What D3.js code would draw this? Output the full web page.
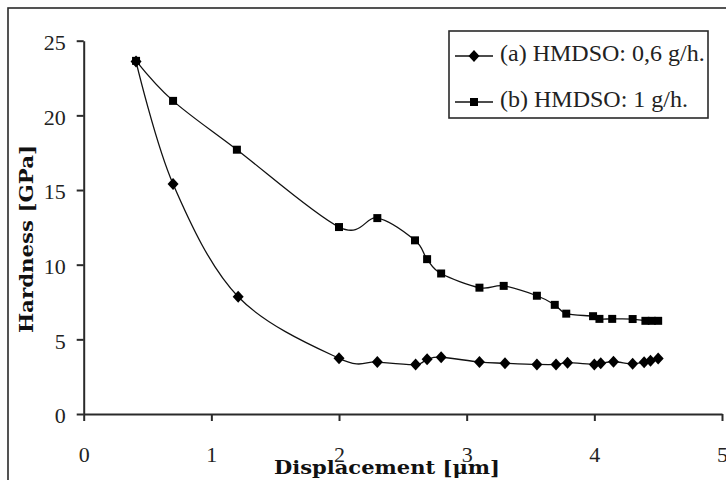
<!DOCTYPE html>
<html><head><meta charset="utf-8">
<script src="https://cdn.jsdelivr.net/npm/d3@7"></script>
<style>html,body{margin:0;padding:0;background:#fff;}svg{display:block;}</style>
</head><body>
<svg id="chart" width="726" height="480"></svg>
<script>
// ---- data ----
const xTicks = [0, 1, 2, 3, 4, 5];
const yTicks = [0, 5, 10, 15, 20, 25];
const seriesNames = ["(a) HMDSO: 0,6 g/h.", "(b) HMDSO: 1 g/h."];
const dispA = [0.41,0.70,1.21,2.00,2.30,2.60,2.69,2.80,3.10,3.30,3.55,3.70,3.79,4.00,4.05,4.15,4.30,4.39,4.44,4.50];
const hardA = [23.6,15.4,7.85,3.73,3.48,3.31,3.66,3.80,3.48,3.40,3.32,3.32,3.44,3.32,3.40,3.50,3.36,3.47,3.57,3.72];
const dispB = [0.41,0.70,1.20,2.00,2.30,2.595,2.69,2.80,3.10,3.29,3.55,3.69,3.78,3.99,4.04,4.14,4.30,4.40,4.45,4.50];
const hardB = [23.65,20.97,17.7,12.52,13.12,11.63,10.37,9.41,8.46,8.58,7.92,7.31,6.72,6.55,6.37,6.37,6.36,6.24,6.24,6.24];

const svg = d3.select("#chart");
const pLeft = 83.7, pRight = 722, pTop = 40.7, pBottom = 414;
const x = d3.scaleLinear().domain([0, 5]).range([pLeft, pRight]);
const y = d3.scaleLinear().domain([0, 25]).range([pBottom, pTop]);

// outer frame
svg.append("rect").attr("x", 8).attr("y", 8).attr("width", 760).attr("height", 520)
  .attr("fill", "none").attr("stroke", "#2a2a2a").attr("stroke-width", 1.6);

const axisColor = "#2a2a2a";
const tickFont = "'Liberation Serif', 'Times New Roman', serif";

// y axis
const gy = svg.append("g").attr("transform", `translate(${pLeft},0)`)
  .call(d3.axisLeft(y).tickValues(yTicks).tickFormat(d3.format("d"))
    .tickSize(7).tickSizeOuter(0).tickPadding(11));
gy.select(".domain").attr("stroke", axisColor).attr("stroke-width", 2);
gy.selectAll(".tick line").attr("stroke", axisColor).attr("stroke-width", 2);
gy.selectAll(".tick text").attr("font-family", tickFont).attr("font-size", 22)
  .attr("fill", "#222").attr("dy", "0.4em");

// x axis
const gx = svg.append("g").attr("transform", `translate(0,${pBottom})`)
  .call(d3.axisBottom(x).tickValues(xTicks).tickFormat(d3.format("d"))
    .tickSize(7).tickSizeOuter(0).tickPadding(25));
gx.select(".domain").attr("stroke", axisColor).attr("stroke-width", 2);
gx.selectAll(".tick line").attr("stroke", axisColor).attr("stroke-width", 2);
gx.selectAll(".tick text").attr("font-family", tickFont).attr("font-size", 22)
  .attr("fill", "#222");

// axis titles
const titleFont = "'DejaVu Serif', serif";
svg.append("text").attr("x", 387).attr("y", 474).attr("text-anchor", "middle")
  .attr("font-family", titleFont).attr("font-weight", "bold").attr("font-size", 19)
  .attr("textLength", 226).attr("lengthAdjust", "spacingAndGlyphs")
  .attr("fill", "#111").text("Displacement [\u03bcm]");
svg.append("text").attr("transform", "translate(33,239) rotate(-90)").attr("text-anchor", "middle")
  .attr("font-family", titleFont).attr("font-weight", "bold").attr("font-size", 19)
  .attr("textLength", 188).attr("lengthAdjust", "spacingAndGlyphs")
  .attr("fill", "#111").text("Hardness [GPa]");

// markers
const diamond = "M0,-6L5.5,0L0,6L-5.5,0Z";
const square = "M-4,-4H4V4H-4Z";

const line = d3.line().x(d => x(d[0])).y(d => y(d[1])).curve(d3.curveCardinal.tension(0));
const dataB = dispB.map((v, i) => [v, hardB[i]]);
const dataA = dispA.map((v, i) => [v, hardA[i]]);

svg.append("path").datum(dataB).attr("d", line).attr("fill", "none")
  .attr("stroke", "#111").attr("stroke-width", 1.3);
svg.append("path").datum(dataA).attr("d", line).attr("fill", "none")
  .attr("stroke", "#111").attr("stroke-width", 1.3);

svg.append("g").selectAll("path").data(dataB).join("path")
  .attr("d", square).attr("transform", d => `translate(${x(d[0])},${y(d[1])})`).attr("fill", "#000");
svg.append("g").selectAll("path").data(dataA).join("path")
  .attr("d", diamond).attr("transform", d => `translate(${x(d[0])},${y(d[1])})`).attr("fill", "#000");

// legend
const lg = svg.append("g");
lg.append("rect").attr("x", 449).attr("y", 31).attr("width", 259).attr("height", 87)
  .attr("fill", "#fff").attr("stroke", "#2a2a2a").attr("stroke-width", 1.6);
const rows = [{name: seriesNames[0], shape: diamond, ly: 56, ty: 61},
              {name: seriesNames[1], shape: square, ly: 102, ty: 107}];
rows.forEach(r => {
  lg.append("line").attr("x1", 455).attr("x2", 493).attr("y1", r.ly).attr("y2", r.ly)
    .attr("stroke", "#111").attr("stroke-width", 1.3);
  lg.append("path").attr("d", r.shape).attr("transform", `translate(474,${r.ly})`).attr("fill", "#000");
  lg.append("text").attr("x", 500).attr("y", r.ty).attr("font-family", tickFont)
    .attr("font-size", 24).attr("fill", "#222").text(r.name);
});
</script>
</body></html>
